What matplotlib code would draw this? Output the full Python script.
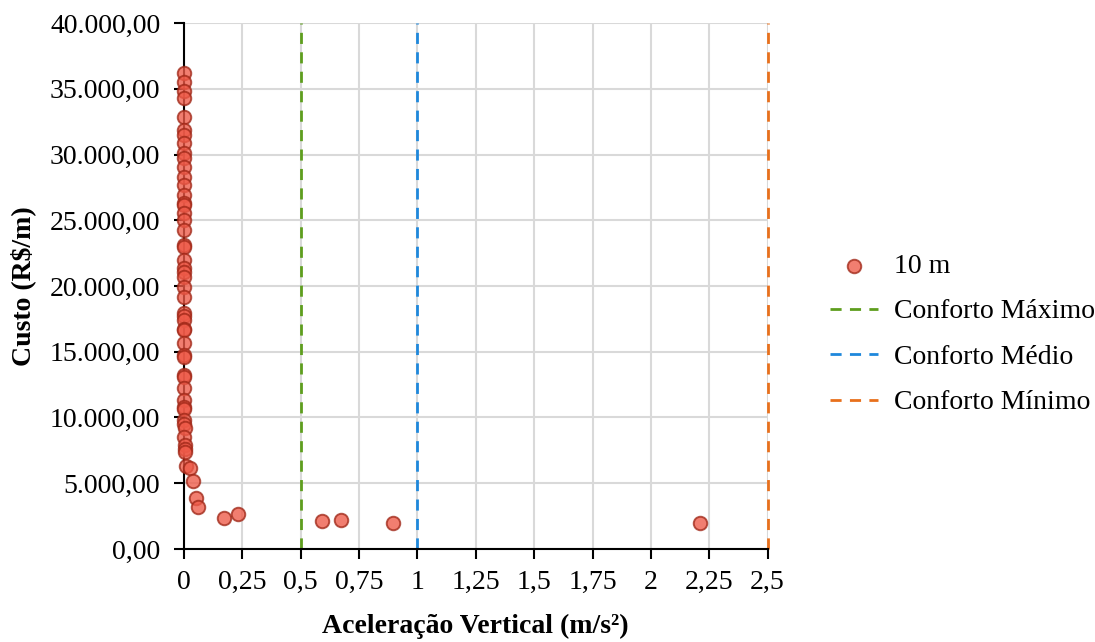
import matplotlib
matplotlib.use("Agg")
import matplotlib.pyplot as plt
from matplotlib.ticker import FuncFormatter, MultipleLocator

# aceleração vertical (m/s²) e custo (R$/m) - vão de 10 m
acel = [0.001, 0.001, 0.001, 0.001, 0.001, 0.001, 0.001, 0.001, 0.001, 0.001,
        0.001, 0.001, 0.001, 0.001, 0.002, 0.001, 0.001, 0.001, 0.001, 0.002,
        0.001, 0.001, 0.001, 0.001, 0.001, 0.002, 0.001, 0.001, 0.001, 0.001,
        0.001, 0.002, 0.001, 0.001, 0.001, 0.001, 0.002, 0.001, 0.001, 0.001,
        0.002, 0.001, 0.002, 0.003, 0.002, 0.003, 0.004, 0.003,
        0.007, 0.026, 0.040, 0.050, 0.058,
        0.171, 0.231, 0.590, 0.672, 0.895, 2.209]
custo = [36220, 35540, 34850, 34320, 32880, 31860, 31480, 30850, 30090, 29710,
         29070, 28310, 27680, 26920, 26290, 26150, 25530, 25020, 24260, 23120,
         23000, 21980, 21340, 21100, 20710, 19950, 19190, 17920, 17700, 17410,
         16710, 16650, 15640, 14750, 14600, 13230, 13050, 12220, 11330, 10820,
         10650, 9810, 9500, 9180, 8540, 7910, 7600, 7400,
         6330, 6160, 5170, 3880, 3190,
         2357, 2660, 2130, 2205, 1977, 1977]

limites = [0.5, 1.0, 2.5]
nomes_limites = ["Conforto Máximo", "Conforto Médio", "Conforto Mínimo"]
cores_limites = ["#5e9e1e", "#1e88dc", "#e8701c"]

plt.rcParams['font.family'] = ['Liberation Serif', 'DejaVu Serif']

fig = plt.figure(figsize=(10.95, 6.42), dpi=100)
ax = fig.add_axes([0.168, 0.145, 0.533, 0.819])

ax.scatter(acel, custo, s=95, facecolor='#ee5a48', edgecolor='#a02818',
           linewidth=1.4, alpha=0.78, zorder=6, label='10 m', clip_on=False)
for x, nome, cor in zip(limites, nomes_limites, cores_limites):
    ax.axvline(x, color=cor, linestyle=(0, (4, 3)), linewidth=2, label=nome,
               zorder=3, clip_on=False)

ax.set_xlim(0, 2.5)
ax.set_ylim(0, 40000)
ax.xaxis.set_major_locator(MultipleLocator(0.25))
ax.yaxis.set_major_locator(MultipleLocator(5000))


def fmt_y(v, pos):
    s = f"{v:,.2f}"
    return s.replace(',', 'X').replace('.', ',').replace('X', '.')


def fmt_x(v, pos):
    return f"{v:g}".replace('.', ',')


ax.yaxis.set_major_formatter(FuncFormatter(fmt_y))
ax.xaxis.set_major_formatter(FuncFormatter(fmt_x))

ax.grid(True, color='#d9d9d9', linewidth=1.5, zorder=0)
ax.set_axisbelow(True)
for s in ['top', 'right']:
    ax.spines[s].set_visible(False)
for s in ['left', 'bottom']:
    ax.spines[s].set_linewidth(1.5)
    ax.spines[s].set_zorder(5)
ax.tick_params(axis='both', labelsize=20, width=1.5, length=7, direction='out')
ax.tick_params(axis='y', pad=10)
ax.tick_params(axis='x', pad=8)

ax.set_xlabel('Aceleração Vertical (m/s²)', fontsize=20, fontweight='bold', labelpad=14)
ax.set_ylabel('Custo (R$/m)', fontsize=20, fontweight='bold', labelpad=10)

leg = fig.legend(loc='center left', bbox_to_anchor=(0.735, 0.479), frameon=False,
                 fontsize=20, handlelength=1.75, labelspacing=0.72, handletextpad=0.55)

fig.savefig('out.png', dpi=100)
plt.close(fig)
